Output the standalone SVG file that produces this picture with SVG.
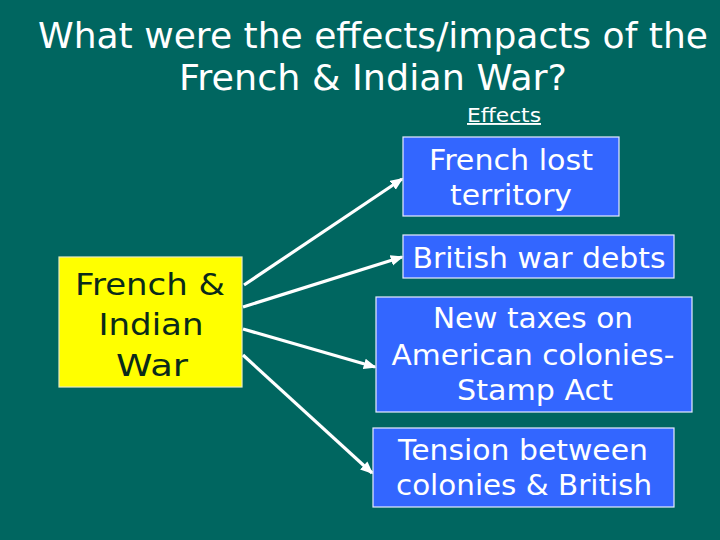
<svg xmlns="http://www.w3.org/2000/svg" width="720" height="540" viewBox="0 0 720 540">
<style>
.t{font-family:"DejaVu Sans","Verdana",sans-serif;text-anchor:middle}
.title{fill:#ffffff;font-size:35px}
.eff{fill:#ffffff;font-size:19px;text-decoration:underline}
.box{fill:#3366ff;stroke:#e8ecff;stroke-width:1.2}
.ybox{fill:#ffff00;stroke:#e8ecc0;stroke-width:1.2}
.bt{fill:#ffffff;font-size:29px}
.yt{fill:#0a2a1a;font-size:31px}
.c{stroke:#ffffff;stroke-width:3.2;fill:none;marker-end:url(#ah)}
</style>
<defs>
<marker id="ah" markerWidth="4" markerHeight="4" refX="3.5" refY="2" orient="auto" markerUnits="strokeWidth">
<path d="M0,0.3 L4,2 L0,3.7 z" fill="#ffffff"/>
</marker>
</defs>
<rect width="720" height="540" fill="#006660"/>
<text class="t title" x="373" y="48" textLength="670" lengthAdjust="spacingAndGlyphs">What were the effects/impacts of the</text>
<text class="t title" x="373" y="90" textLength="388" lengthAdjust="spacingAndGlyphs">French &amp; Indian War?</text>
<text class="t eff" x="504" y="122" textLength="74" lengthAdjust="spacingAndGlyphs">Effects</text>
<g id="cause">
<rect class="ybox" x="59" y="257" width="183" height="130"/>
<text class="t yt" x="150" y="295" textLength="150" lengthAdjust="spacingAndGlyphs">French &amp;</text>
<text class="t yt" x="151" y="335" textLength="105" lengthAdjust="spacingAndGlyphs">Indian</text>
<text class="t yt" x="152" y="376" textLength="72" lengthAdjust="spacingAndGlyphs">War</text>
</g>
<g id="e1">
<rect class="box" x="403" y="137" width="216" height="79"/>
<text class="t bt" x="511" y="170" textLength="164" lengthAdjust="spacingAndGlyphs">French lost</text>
<text class="t bt" x="511" y="205" textLength="122" lengthAdjust="spacingAndGlyphs">territory</text>
</g>
<g id="e2">
<rect class="box" x="403" y="235" width="271" height="43"/>
<text class="t bt" x="539" y="268" textLength="253" lengthAdjust="spacingAndGlyphs">British war debts</text>
</g>
<g id="e3">
<rect class="box" x="376" y="297" width="316" height="115"/>
<text class="t bt" x="533" y="328" textLength="200" lengthAdjust="spacingAndGlyphs">New taxes on</text>
<text class="t bt" x="533" y="365" textLength="283" lengthAdjust="spacingAndGlyphs">American colonies-</text>
<text class="t bt" x="535" y="400" textLength="156" lengthAdjust="spacingAndGlyphs">Stamp Act</text>
</g>
<g id="e4">
<rect class="box" x="373" y="428" width="301" height="79"/>
<text class="t bt" x="523" y="460" textLength="250" lengthAdjust="spacingAndGlyphs">Tension between</text>
<text class="t bt" x="524" y="495" textLength="256" lengthAdjust="spacingAndGlyphs">colonies &amp; British</text>
</g>
<g id="connectors">
<line class="c" x1="244" y1="285" x2="402" y2="179"/>
<line class="c" x1="243" y1="307" x2="402" y2="257"/>
<line class="c" x1="243" y1="329" x2="375" y2="367"/>
<line class="c" x1="243" y1="355" x2="372" y2="473"/>
</g>
</svg>
